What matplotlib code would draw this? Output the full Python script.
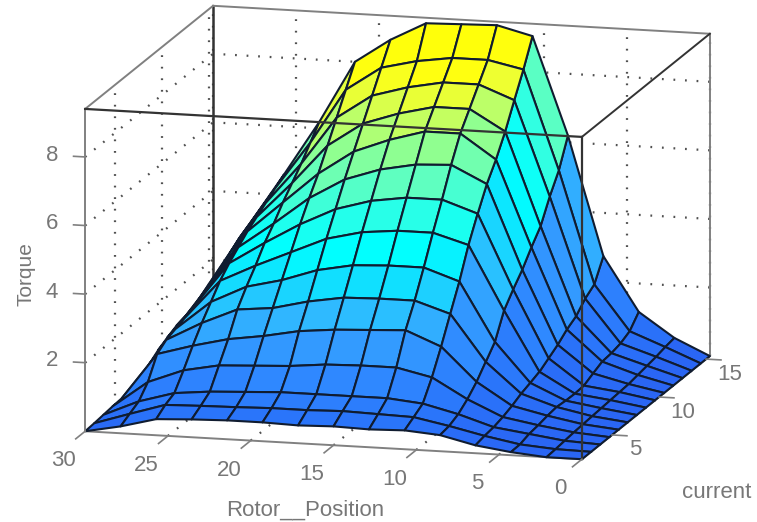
import matplotlib
matplotlib.use('Agg')
import matplotlib.pyplot as plt
import numpy as np
from matplotlib.colors import LinearSegmentedColormap
from mpl_toolkits.mplot3d import proj3d

rotor_position = [0, 2.14, 4.29, 6.43, 8.57, 10.71, 12.86, 15, 17.14, 19.29, 21.43, 23.57, 25.71, 27.86, 30]
current = [1.8, 2.77, 3.74, 4.71, 5.69, 6.66, 7.63, 8.6, 9.57, 10.54, 11.51, 12.49, 13.46, 14.43, 15.4]

# one row per rotor position, running along current
torque = [
    [0, 0, 0, 0, 0, 0, 0, 0, 0, 0, 0, 0, 0, 0, 0],
    [0, .02, .05, .08, .1, .12, .14, .16, .18, .2, .25, .3, .35, .42, .47],
    [.09, .1, .19, .23, .29, .33, .3, .29, .31, .45, .58, .61, .68, .82, 1.17],
    [.23, .29, .33, .41, .52, .66, .76, .87, 1.05, 1.23, 1.46, 1.63, 1.93, 2.13, 2.74],
    [.47, .52, .65, .87, 1.16, 1.53, 1.9, 2.6, 3.0, 3.36, 3.8, 4.2, 4.85, 5.4, 6.2],
    [.55, .72, .9, 1.45, 2.13, 2.87, 3.6, 4.45, 5.15, 5.8, 6.3, 6.9, 7.6, 8.28, 9.04],
    [.52, .75, 1, 1.68, 2.55, 3.2, 3.95, 4.75, 5.5, 6.3, 7, 7.5, 8, 8.5, 9.3],
    [.55, .78, 1, 1.68, 2.5, 3.2, 3.95, 4.75, 5.5, 6.25, 7, 7.5, 8, 8.5, 9.27],
    [.52, .75, 1, 1.65, 2.45, 3.17, 3.9, 4.65, 5.35, 6.05, 6.7, 7.25, 7.8, 8.35, 9.24],
    [.55, .75, 1, 1.55, 2.35, 3, 3.7, 4.4, 5.05, 5.7, 6.3, 6.9, 7.5, 8.1, 8.7],
    [.55, .72, .95, 1.5, 2.15, 2.75, 3.35, 3.95, 4.55, 5.1, 5.6, 6.2, 6.8, 7.4, 8],
    [.52, .7, .9, 1.45, 2, 2.65, 3.1, 3.5, 3.95, 4.3, 4.7, 5.05, 5.4, 5.8, 6.2],
    [.47, .67, .8, 1.25, 1.75, 2.2, 2.6, 3, 3.3, 3.55, 3.8, 4, 4.2, 4.4, 4.6],
    [.2, .35, .5, .85, 1.45, 1.65, 1.75, 1.85, 1.97, 2.05, 2.1, 2.4, 2.7, 2.9, 3.05],
    [0, .02, .05, .08, .1, .1, .25, .45, .65, .8, .93, 1, 1.1, 1.15, 1.2],
]

x_ticks = [0, 5, 10, 15, 20, 25, 30]
y_ticks = [5, 10, 15]
z_ticks = [2, 4, 6, 8]

color_levels = [0, .5, 1, 1.7, 2.4, 3.2, 3.9, 4.75, 5.5, 6.3, 6.9, 7.3, 7.7, 8.0, 9.4]
color_values = ['#2a66f4', '#2a74fa', '#2f88ff', '#339cff', '#30b8ff', '#10e0ff', '#00ffff',
                '#28ffe8', '#60ffc0', '#90ff90', '#bcff68', '#dcff48', '#f4ff28', '#ffff10',
                '#ffff00']

XMIN, XMAX = 0, 30
YMIN, YMAX = 1.8, 15.4
ZMIN, ZMAX = 0, 9.4
GRAY = '#808080'
DARK = '#333333'
TEXT = '#777777'
DOTS = (0, (0.8, 4.4))

plt.rcParams['font.family'] = ['Liberation Sans', 'DejaVu Sans']

W, H = 757, 522
S = 740
fig = plt.figure(figsize=(W / 100, H / 100), dpi=100)
ax = fig.add_axes([17.5 / W, -90.5 / H, S / W, S / H], projection='3d', proj_type='ortho')
ax.computed_zorder = False
ax.view_init(elev=12.3, azim=-75.2)
ax.set_box_aspect((514, 501, 330), zoom=1.036)
ax.set_axis_off()

X, Y = np.meshgrid(rotor_position, current)
Z = np.array(torque).T
cmap = LinearSegmentedColormap.from_list(
    'torque', [(v / color_levels[-1], c) for v, c in zip(color_levels, color_values)])
# each cell takes the colour of its first corner, as flat shading does
ax.plot_surface(X, Y, Z, rstride=1, cstride=1, facecolors=cmap(Z / color_levels[-1]),
                edgecolor='#101c30', linewidth=1.5, shade=False, antialiased=True, zorder=2)


def seg(p, q, color=GRAY, lw=1.4, z=1, ls='-'):
    ax.plot([p[0], q[0]], [p[1], q[1]], [p[2], q[2]], color=color, lw=lw, ls=ls, zorder=z)


def label(x, y, z, s, **kw):
    # text sits at the projected position of a 3D point
    px, py, _ = proj3d.proj_transform(x, y, z, ax.get_proj())
    ax.text2D(px, py, s, transform=ax.transData, color=TEXT, ha='center', va='center', **kw)


# dotted grid on the back walls and the floor
for v in x_ticks:
    seg((v, YMAX, ZMIN), (v, YMAX, ZMAX), '#505050', 1.6, 1, DOTS)
    seg((v, YMIN, ZMIN), (v, YMAX, ZMIN), '#505050', 1.6, 1, DOTS)
for v in y_ticks:
    seg((XMAX, v, ZMIN), (XMAX, v, ZMAX), '#505050', 1.6, 1, DOTS)
    seg((XMIN, v, ZMIN), (XMAX, v, ZMIN), '#505050', 1.6, 1, DOTS)
for v in z_ticks:
    seg((XMIN, YMAX, v), (XMAX, YMAX, v), '#505050', 1.6, 1, DOTS)
    seg((XMAX, YMIN, v), (XMAX, YMAX, v), '#505050', 1.6, 1, DOTS)

# box
seg((XMAX, YMAX, ZMIN), (XMAX, YMAX, ZMAX), DARK, 1.8)
seg((XMAX, YMAX, ZMAX), (XMIN, YMAX, ZMAX))
seg((XMAX, YMIN, ZMAX), (XMAX, YMAX, ZMAX))
seg((XMIN, YMAX, ZMIN), (XMIN, YMAX, ZMAX))
seg((XMIN, YMIN, ZMAX), (XMIN, YMAX, ZMAX), DARK, 1.4)
seg((XMAX, YMIN, ZMIN), (XMAX, YMIN, ZMAX), GRAY, 1.4, 3)
seg((XMAX, YMIN, ZMIN), (XMIN, YMIN, ZMIN), GRAY, 1.4, 1)
seg((XMIN, YMIN, ZMIN), (XMIN, YMAX, ZMIN), GRAY, 1.4, 1)
seg((XMAX, YMIN, ZMAX), (XMIN, YMIN, ZMAX), DARK, 1.6, 3)
seg((XMIN, YMIN, ZMIN), (XMIN, YMIN, ZMAX), DARK, 1.6, 3)

ax.set_xlim(XMAX, XMIN)
ax.set_ylim(YMIN, YMAX)
ax.set_zlim(ZMIN, ZMAX)

# ticks and their labels
for v in x_ticks:
    seg((v, YMIN, ZMIN), (v, YMIN - 1, ZMIN), GRAY, 1.2, 3)
    label(v, YMIN - 2.3, -0.35, str(v), fontsize=16)
for v in y_ticks:
    seg((XMIN, v, ZMIN), (XMIN - 0.9, v, ZMIN), GRAY, 1.2, 3)
    label(XMIN - 1.4, v, -0.4, str(v), fontsize=16)
for v in z_ticks:
    seg((XMAX, YMIN, v), (XMAX + 0.7, YMIN, v), GRAY, 1.2, 3)
    label(XMAX + 2, YMIN, v, str(v), fontsize=16)

label(15, YMIN - 3, -1.24, 'Rotor__Position', fontsize=16)
label(XMIN - 6.3, 5, -1.52, 'current', fontsize=16)
label(XMAX + 3.6, YMIN, 4.5, 'Torque', fontsize=15, rotation=90)

ax.set_xlim(XMAX, XMIN)
ax.set_ylim(YMIN, YMAX)
ax.set_zlim(ZMIN, ZMAX)

fig.savefig('out.png', dpi=100, facecolor='white')
